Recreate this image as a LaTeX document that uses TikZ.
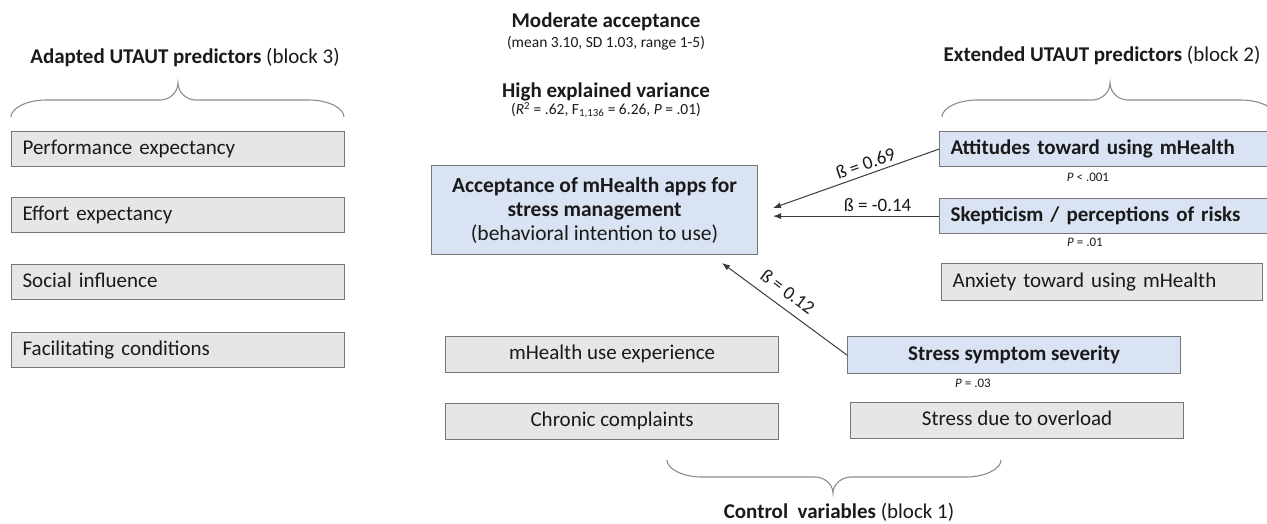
\documentclass[tikz,border=0pt]{standalone}
\usepackage{fontspec}
\setmainfont{Carlito}
\usetikzlibrary{arrows.meta,calc}
\definecolor{greyfill}{HTML}{E7E6E6}
\definecolor{bluefill}{HTML}{DAE3F3}
\definecolor{boxline}{HTML}{767676}
\definecolor{braceline}{HTML}{8C8C8C}
\definecolor{arrowline}{HTML}{3A3A3A}
\definecolor{txt}{HTML}{1A1A1A}
\begin{document}
\begin{tikzpicture}[x=1pt,y=-1pt,
  base/.style={inner sep=0pt, line width=1.2pt, draw=boxline, text=txt,
               font=\fontsize{21}{25}\selectfont, text height=14.5pt, text depth=4pt},
  gbox/.style={base, fill=greyfill},
  bbox/.style={base, fill=bluefill},
  leftbox/.style={anchor=north west, minimum height=35pt, text width=#1, inner xsep=11pt, align=left},
  midbox/.style={anchor=north west, minimum height=36pt, minimum width=#1, align=center},
  ttl/.style={text=txt, inner sep=0pt, font=\fontsize{21}{25}\selectfont},
  sub/.style={text=txt, inner sep=0pt, font=\fontsize{15.5}{18}\selectfont},
  pval/.style={text=txt, inner sep=0pt, font=\fontsize{13}{15}\selectfont},
  lbl/.style={text=txt, inner sep=0pt, font=\fontsize{19}{22}\selectfont},
  arr/.style={draw=arrowline, line width=1pt, -{Latex[length=8pt,width=6pt]}},
  brc/.style={draw=braceline, line width=1.1pt}
]
\useasboundingbox (0,0) rectangle (1267,523);
\clip (0,0) rectangle (1267,523);

% ---------- left column (block 3)
\node[ttl] (tl) at (185,57) {\bfseries Adapted UTAUT predictors\ \mdseries(block 3)};
\draw[brc] (11,117) .. controls (11,108) and (27,100) .. (46,100) -- (160,100)
  .. controls (170,100) and (178,92) .. (178,83)
  .. controls (178,92) and (186,100) .. (196,100) -- (309,100)
  .. controls (328,100) and (344,108) .. (344,117);
\node[gbox, leftbox=311pt] (pe) at (11,131) {Performance expectancy};
\node[gbox, leftbox=311pt] (ee) at (11,197) {Effort expectancy};
\node[gbox, leftbox=311pt] (si) at (11,264) {Social influence};
\node[gbox, leftbox=311pt] (fc) at (11,332) {Facilitating conditions};

% ---------- centre
\node[ttl] (ma) at (606,22) {\bfseries Moderate acceptance};
\node[sub] (ms) at (606,43) {(mean 3.10, SD 1.03, range 1-5)};
\node[ttl] (hv) at (606,92) {\bfseries High explained variance};
\node[sub] (hs) at (606,110) {(\textit{R}\textsuperscript{2} = .62, F\textsubscript{1,136} = 6.26, \textit{P} = .01)};
\node[bbox, anchor=north west, minimum width=326pt, minimum height=89pt, align=center,
      font=\fontsize{21.5}{24}\selectfont, text height=, text depth=] (acc) at (431,165)
  {{\bfseries Acceptance of mHealth apps for}\\{\bfseries stress management}\\(behavioral intention to use)};

% ---------- right column (block 2)
\node[ttl] (tr) at (1102,55) {\bfseries Extended UTAUT predictors\ \mdseries(block 2)};
\draw[brc] (942,117) .. controls (942,108) and (958,100) .. (977,100) -- (1092,100)
  .. controls (1102,100) and (1110,92) .. (1110,83)
  .. controls (1110,92) and (1118,100) .. (1128,100) -- (1241,100)
  .. controls (1260,100) and (1276,108) .. (1276,117);
\node[bbox, leftbox=320pt, font=\fontsize{21}{25}\selectfont\bfseries] (att) at (939,131) {Attitudes toward using mHealth};
\node[pval] (p1) at (1088,177) {\textit{P} < .001};
\node[bbox, leftbox=320pt, font=\fontsize{21}{25}\selectfont\bfseries] (skp) at (939,198) {Skepticism / perceptions of risks};
\node[pval] (p2) at (1085,242) {\textit{P} = .01};
\node[gbox, leftbox=299pt, minimum height=37pt] (anx) at (941,263) {Anxiety toward using mHealth};

% ---------- bottom (block 1)
\node[gbox, midbox=333pt] (mue) at (445,336) {mHealth use experience};
\node[gbox, midbox=333pt] (chr) at (445,403) {Chronic complaints};
\node[bbox, midbox=333pt, minimum height=37pt, font=\fontsize{21}{25}\selectfont\bfseries] (sss) at (847,336) {Stress symptom severity};
\node[pval] (p3) at (973,383) {\textit{P} = .03};
\node[gbox, midbox=333pt] (sdo) at (850,402) {Stress due to overload};
\draw[brc] (667,460) .. controls (667,469) and (683,477) .. (702,477) -- (815,477)
  .. controls (825,477) and (833,485) .. (833,493)
  .. controls (833,485) and (841,477) .. (851,477) -- (966,477)
  .. controls (985,477) and (1001,469) .. (1001,460);
\node[ttl] (cv) at (839,512) {\bfseries Control\ \ variables\ \mdseries(block 1)};

% ---------- connectors
\coordinate (t1) at (773,208);
\coordinate (t2) at (773,216);
\coordinate (t3) at (722,263);
\draw[arr] (att.west) -- node[lbl, sloped, above=4pt, pos=0.42] (b1) {ß = 0.69} (t1);
\draw[arr] (skp.west) -- node[lbl, above=4pt, pos=0.37] (b2) {ß = -0.14} (skp.west -| t2);
\draw[arr] (sss.west) -- node[lbl, sloped, above=9pt, pos=0.55] (b3) {ß = 0.12} (t3);
\end{tikzpicture}
\end{document}
